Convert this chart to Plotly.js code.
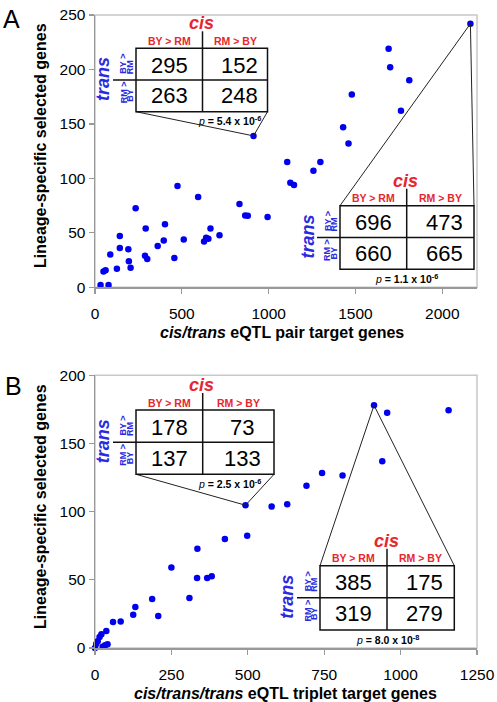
<!DOCTYPE html>
<html><head><meta charset="utf-8">
<script src="https://cdn.plot.ly/plotly-3.0.1.min.js"></script>
<style>html,body{margin:0;padding:0;background:#fff}</style>
</head><body><div id="chart" style="width:497px;height:702px"></div>
<script>
// ---------- data ----------
const xA = [32,78,49,61,88,126,143,143,192,195,205,234,292,288,301,361,396,403,457,475,511,594,628,640,653,665,717,832,865,880,913,994,1107,1125,1146,1258,1298,1429,1460,1479,1691,1700,1762,1810,2162];
const yA = [2,2,14.5,15.6,30,17,47,36,35,24,18,72.5,54,29,26,38,43,58,27,93,44,83,42,45.5,44.6,54,47.7,76.5,66,65.7,139,64.5,115,96,94,107,115,147,132,177,219,202,162,190,242];
const xB = [0,4,9,15,21,37,25,33,41,59,84,125,132,187,207,250,309,335,334,367,382,425,498,492.5,578,629,692,743,810,913,940,956,1157];
const yB = [0,3,5,8,10,12.5,1,2,2.7,19,19.5,24.4,30,36,23.4,59,36.6,72.8,51.3,51.3,52.7,80,82.3,104.7,103.7,105.5,119,128.4,126.5,178,137,172.6,174.3];
const xTicksA = [0,500,1000,1500,2000];
const yTicksA = [0,50,100,150,200,250];
const xTicksB = [0,250,500,750,1000,1250];
const yTicksB = [0,50,100,150,200];
const cisLabels = ['BY > RM','RM > BY'];
const transLabels = [['BY >','RM'],['RM >','BY']];
const tableA1 = [295,152,263,248];
const tableA2 = [696,473,660,665];
const tableB1 = [178,73,137,133];
const tableB2 = [385,175,319,279];
const pA1 = '5.4 x 10<sup>-6</sup>';
const pA2 = '1.1 x 10<sup>-6</sup>';
const pB1 = '2.5 x 10<sup>-6</sup>';
const pB2 = '8.0 x 10<sup>-8</sup>';
const anchorA1 = 30, anchorA2 = 44, anchorB1 = 23, anchorB2 = 29;

// ---------- layout geometry ----------
const W=497,H=702,ML=95,MR=20,MT=15,MB=54;
const PW=W-ML-MR, PH=H-MT-MB;
const px = v => (v-ML)/PW;
const py = v => (H-MB-v)/PH;
const dA0 = py(287.3), dB1 = py(375.3);
const xrA=[0,2200], yrA=[0,250], xrB=[0,1250], yrB=[0,200];
const ptA = i => ({x:(xA[i]-xrA[0])/(xrA[1]-xrA[0]), y:dA0+(yA[i]-yrA[0])/(yrA[1]-yrA[0])*(1-dA0)});
const ptB = i => ({x:(xB[i]-xrB[0])/(xrB[1]-xrB[0]), y:(yB[i]-yrB[0])/(yrB[1]-yrB[0])*dB1});

const FONT = 'Arial, "Liberation Sans", sans-serif';
const RED = '#e8262d', BLUE = '#2a2ae0';
const shapes = [], annotations = [];

function ann(x, y, text, size, color, extra) {
  annotations.push(Object.assign({xref:'paper', yref:'paper', x:px(x), y:py(y), text:text,
    showarrow:false, xanchor:'center', yanchor:'middle', font:{family:FONT, size:size, color:color}}, extra||{}));
}
function line(x0,y0,x1,y1,w,c){
  shapes.push({type:'line', xref:'paper', yref:'paper', x0:px(x0), y0:py(y0), x1:px(x1), y1:py(y1),
    line:{color:c||'#111', width:w||1.5}, layer:'above'});
}
function lineToPt(x0,y0,pt){
  shapes.push({type:'line', xref:'paper', yref:'paper', x0:px(x0), y0:py(y0), x1:pt.x, y1:pt.y,
    line:{color:'#222', width:1}, layer:'above'});
}
function table(g, vals, ptext, pt, corner){
  const {l,r,t,b} = g, m=(t+b)/2, c=g.c;
  if (corner==='bottom'){ lineToPt(l,b,pt); lineToPt(r,b,pt); }
  else { lineToPt(l,t,pt); lineToPt(r,t,pt); }
  shapes.push({type:'rect', xref:'paper', yref:'paper', x0:px(l), y0:py(b), x1:px(r), y1:py(t),
    fillcolor:'#fff', line:{color:'#111', width:1.5}, layer:'above'});
  line(c, t-17, c, b, 1.5);
  line(l-23, m, r, m, 1.5);
  ann(c-1, t-25, '<b><i>cis</i></b>', 18, RED);
  ann((l+c)/2, t-7.5, '<b>'+cisLabels[0]+'</b>', 10.5, RED);
  ann((c+r)/2, t-7.5, '<b>'+cisLabels[1]+'</b>', 10.5, RED);
  const rc=[(t+m)/2+1,(m+b)/2];
  ann((l+c)/2, rc[0], String(vals[0]), 22, '#000');
  ann((c+r)/2+4, rc[0], String(vals[1]), 22, '#000');
  ann((l+c)/2, rc[1], String(vals[2]), 22, '#000');
  ann((c+r)/2+4, rc[1], String(vals[3]), 22, '#000');
  ann(l-33, m-1, '<b><i>trans</i></b>', 18, BLUE, {textangle:-90});
  ann(l-12.5, rc[0]-1, '<b>'+transLabels[0][0]+'</b>', 9, BLUE, {textangle:-90});
  ann(l-6, rc[0]+2, '<b>'+transLabels[0][1]+'</b>', 9, BLUE, {textangle:-90});
  ann(l-12.5, rc[1]-3, '<b>'+transLabels[1][0]+'</b>', 9, BLUE, {textangle:-90});
  ann(l-6, rc[1], '<b>'+transLabels[1][1]+'</b>', 9, BLUE, {textangle:-90});
  ann(c+ (corner==='bottom'?27:0), b+9, '<i>p</i><b> = '+ptext+'</b>', 10.5, '#000');
}

table({l:136,r:267.5,t:48.3,b:111.7,c:202.5}, tableA1, pA1, ptA(anchorA1), 'bottom');
table({l:340,r:474,t:205.7,b:269.3,c:406.7}, tableA2, pA2, ptA(anchorA2), 'top');
table({l:136,r:274,t:410,b:474.3,c:202.7}, tableB1, pB1, ptB(anchorB1), 'bottom');
table({l:320,r:454.3,t:565.7,b:630,c:387}, tableB2, pB2, ptB(anchorB2), 'top');

// frames
shapes.unshift({type:'rect', xref:'x domain', yref:'y domain', x0:0,x1:1,y0:0,y1:1, line:{color:'#c8c8c8', width:1.5}, layer:'below'});
shapes.unshift({type:'rect', xref:'x2 domain', yref:'y2 domain', x0:0,x1:1,y0:0,y1:1, line:{color:'#c8c8c8', width:1.5}, layer:'below'});

// titles & panel letters
ann(40, 146, '<b>Lineage-specific selected genes</b>', 16, '#000', {textangle:-90});
ann(40, 507, '<b>Lineage-specific selected genes</b>', 16, '#000', {textangle:-90});
ann(282, 332.5, '<b><i>cis/trans</i> eQTL pair target genes</b>', 16, '#000');
ann(285, 693.5, '<b><i>cis/trans/trans</i> eQTL triplet target genes</b>', 16, '#000');
ann(11, 19, 'A', 25, '#000');
ann(13, 386, 'B', 25, '#000');

const axBase = {showgrid:false, zeroline:false, showline:true, linecolor:'#999', linewidth:1.5,
  ticks:'outside', ticklen:5, tickcolor:'#999', tickwidth:1.2,
  tickfont:{family:FONT, size:15.5, color:'#000'}, fixedrange:true};
const xExtra = {ticklabelstandoff:7};

const mk = {color:'#0000ee', size:6.5};
const data = [
  {x:xA, y:yA, type:'scatter', mode:'markers', marker:mk, xaxis:'x', yaxis:'y', cliponaxis:false, hoverinfo:'skip'},
  {x:xB, y:yB, type:'scatter', mode:'markers', marker:mk, xaxis:'x2', yaxis:'y2', cliponaxis:false, hoverinfo:'skip'}
];
const layout = {
  width:W, height:H, margin:{l:ML, r:MR, t:MT, b:MB}, showlegend:false,
  paper_bgcolor:'#fff', plot_bgcolor:'#fff',
  xaxis: Object.assign({}, axBase, xExtra, {domain:[0,1], range:xrA, anchor:'y', tickvals:xTicksA}),
  yaxis: Object.assign({}, axBase, {domain:[dA0,1], range:yrA, anchor:'x', tickvals:yTicksA}),
  xaxis2: Object.assign({}, axBase, xExtra, {domain:[0,1], range:xrB, anchor:'y2', tickvals:xTicksB}),
  yaxis2: Object.assign({}, axBase, {domain:[0,dB1], range:yrB, anchor:'x2', tickvals:yTicksB}),
  shapes:shapes, annotations:annotations
};
Plotly.newPlot('chart', data, layout, {staticPlot:true, displayModeBar:false});
</script></body></html>
